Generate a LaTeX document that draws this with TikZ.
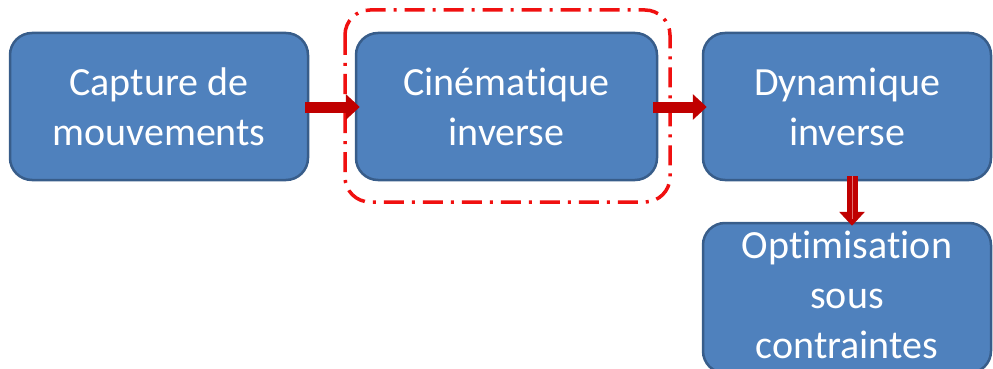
\documentclass[tikz,border=0pt]{standalone}
\usepackage{fontspec}
\setmainfont[Ligatures=NoCommon]{Carlito}
\usetikzlibrary{arrows.meta}
\definecolor{boxfill}{HTML}{4F81BD}
\definecolor{boxline}{HTML}{385D8A}
\definecolor{arrowred}{HTML}{C00000}
\definecolor{arrowhi}{HTML}{E07070}
\definecolor{grpred}{HTML}{F01010}
\tikzset{
  stepbox/.style={draw=boxline, line width=2.5pt, fill=boxfill, rounded corners=22pt,
    text=white, align=center, inner sep=0pt,
    font=\fontsize{40}{50}\selectfont},
  flow/.style={draw=arrowred, line width=11pt,
    -{Triangle[width=25pt,length=14pt]}, fill=arrowred},
  grpbox/.style={draw=grpred, line width=3.5pt, rounded corners=25pt,
    dash pattern=on 20pt off 8pt on 3pt off 8pt}
}
\begin{document}
\begin{tikzpicture}[x=1pt,y=-1pt]
\useasboundingbox (0,0) rectangle (993,369);
\draw[grpbox] (345,10) rectangle (670,202);
\node[stepbox, minimum width=298pt, minimum height=147pt] (cap) at (159,106.5) {Capture de\\mouvements};
\node[stepbox, minimum width=301pt, minimum height=147pt] (cin) at (506.5,106.5) {Cinématique\\inverse};
\node[stepbox, minimum width=288pt, minimum height=147pt] (dyn) at (847,106.5) {Dynamique\\inverse};
\node[stepbox, minimum width=288pt, minimum height=140pt] (opt) at (847,298)
  {\raisebox{-5pt}{\begin{tabular}{@{}c@{}}Optimisation\\sous\\contraintes\end{tabular}}};
\draw[flow, shorten <=-4pt, shorten >=-5pt] (cap.east |- 0,107) -- (cin.west |- 0,107);
\draw[flow, shorten <=-5pt, shorten >=-5pt] (cin.east |- 0,107) -- (dyn.west |- 0,107);
\draw[flow, shorten <=-5pt, shorten >=-4pt] (dyn.south -| 852,0) -- (opt.north -| 852,0);
\draw[arrowhi, line width=1pt] (852,176) -- (852,219);
\end{tikzpicture}
\end{document}
